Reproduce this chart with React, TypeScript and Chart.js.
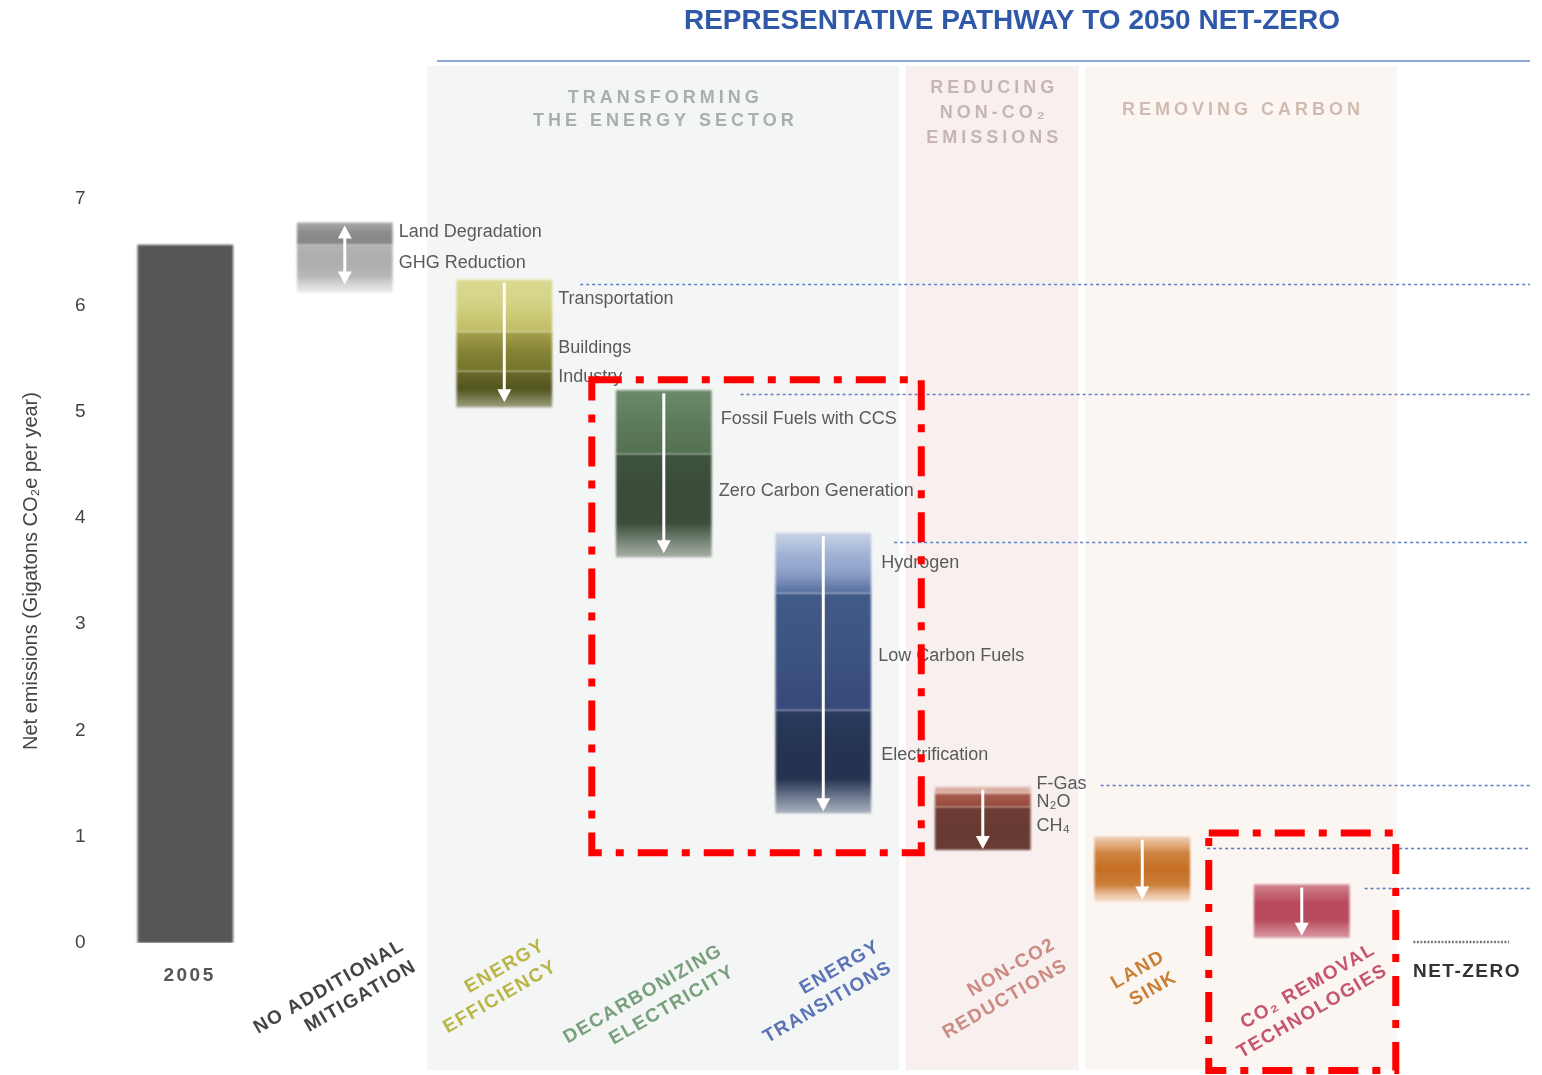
import React, { useEffect, useRef } from 'react';
import { Chart, registerables } from 'chart.js';

Chart.register(...registerables);

const FONT = '"Liberation Sans", Arial, Helvetica, sans-serif';

// ---------- DATA ----------
const categories = [
  '2005',
  'No Additional Mitigation',
  'Energy Efficiency',
  'Decarbonizing Electricity',
  'Energy Transitions',
  'Non-CO2 Reductions',
  'Land Sink',
  'CO2 Removal Technologies',
  'Net-Zero',
];
const categoryLabelLines = [
  ['2005'],
  ['NO ADDITIONAL', 'MITIGATION'],
  ['ENERGY', 'EFFICIENCY'],
  ['DECARBONIZING', 'ELECTRICITY'],
  ['ENERGY', 'TRANSITIONS'],
  ['NON-CO2', 'REDUCTIONS'],
  ['LAND', 'SINK'],
  ['CO\u2082 REMOVAL', 'TECHNOLOGIES'],
  ['NET-ZERO'],
];
const yMin = 0;
const yMax = 7;
const yStep = 1;

// floating bar ranges [low, high] in Gt CO2e / year
const emissions2005 = [0, 6.57];
const landDegradation = [6.57, 6.78];
const ghgReduction = [6.12, 6.57];
const transportation = [5.75, 6.24];
const buildings = [5.38, 5.75];
const industry = [5.04, 5.38];
const fossilFuelsCCS = [4.6, 5.2];
const zeroCarbonGeneration = [3.63, 4.6];
const hydrogen = [3.29, 3.86];
const lowCarbonFuels = [2.19, 3.29];
const electrification = [1.22, 2.19];
const fGas = [1.41, 1.47];
const n2o = [1.28, 1.41];
const ch4 = [0.875, 1.28];
const landSink = [0.39, 1.0];
const co2Removal = [0.05, 0.55];

// dotted reference levels (value, category after whose bar the line starts)
const levelValues = [6.2, 5.165, 3.77, 1.486, 0.894, 0.517];
const levelStartCategory = [2, 3, 4, 5, 6, 7];
const netZeroValue = 0;

// ---------- STYLE TABLES ----------
type Seg = {
  cat: number;
  range: number[];
  colors: string[];
  label?: string;
  labelDy?: number;
  labelDx?: number;
};

const segments: Seg[] = [
  { cat: 0, range: emissions2005, colors: ['#565656', '#565656'] },
  { cat: 1, range: landDegradation, colors: ['rgba(140,140,140,0.75)', '#8a8a8a', '#888888'], label: 'Land Degradation', labelDy: -2 },
  { cat: 1, range: ghgReduction, colors: ['#b3b3b3', '#adadad', '#b8b8b8', 'rgba(215,215,215,0.5)'], label: 'GHG Reduction', labelDy: -6 },
  { cat: 2, range: transportation, colors: ['#dad992', '#d3d282', '#bdbb63'], label: 'Transportation', labelDy: -7 },
  { cat: 2, range: buildings, colors: ['#a3a14c', '#858435', '#737329'], label: 'Buildings', labelDy: -3 },
  { cat: 2, range: industry, colors: ['#686a2b', '#535520', 'rgba(85,87,33,0.55)'], label: 'Industry', labelDy: -12 },
  { cat: 3, range: fossilFuelsCCS, colors: ['#6b8a69', '#5d7c5c', '#53704f'], label: 'Fossil Fuels with CCS', labelDy: -3, labelDx: 3 },
  { cat: 3, range: zeroCarbonGeneration, colors: ['#3f533e', '#3a4c39', '#3b4d3a', 'rgba(70,90,69,0.45)'], label: 'Zero Carbon Generation', labelDy: -15, labelDx: 1 },
  { cat: 4, range: hydrogen, colors: ['rgba(170,186,216,0.6)', '#a3b5d6', '#8c9fc7', '#566d9c'], label: 'Hydrogen', labelDy: 0, labelDx: 4 },
  { cat: 4, range: lowCarbonFuels, colors: ['#425a88', '#3d5481', '#37497a'], label: 'Low Carbon Fuels', labelDy: 4, labelDx: 1 },
  { cat: 4, range: electrification, colors: ['#2a3b5e', '#253452', '#243350', 'rgba(60,75,110,0.4)'], label: 'Electrification', labelDy: -7, labelDx: 4 },
  { cat: 5, range: fGas, colors: ['#e2bcb2', '#d3a497'], label: 'F-Gas', labelDy: -6 },
  { cat: 5, range: n2o, colors: ['#a85d4f', '#954a3e'], label: 'N\u2082O', labelDy: 2 },
  { cat: 5, range: ch4, colors: ['#6e3e35', '#673a31', '#6a3d34'], label: 'CH\u2084', labelDy: -2 },
  { cat: 6, range: landSink, colors: ['rgba(225,170,120,0.55)', '#cf8340', '#c56f24', '#cc7f3a', 'rgba(236,196,160,0.45)'] },
  { cat: 7, range: co2Removal, colors: ['rgba(196,100,115,0.8)', '#b94a5e', '#b84a5d', 'rgba(200,110,125,0.7)'] },
];

const arrowInsets = [0, 8, 5, 4, 2, 1, 2, 2];
const levelGap = [28, 29, 23, 70, 17, 15];

const sections = [
  { lines: ['TRANSFORMING', 'THE ENERGY SECTOR'], from: 2, dl: -77, to: 4, dr: 76, y0: 98, lh: 23, bg: '#f4f6f5', color: '#a7b0ab' },
  { lines: ['REDUCING', 'NON-CO\u2082', 'EMISSIONS'], from: 5, dl: -77, to: 5, dr: 96, y0: 88, lh: 25, bg: '#f7f0ef', color: '#c6b5b3' },
  { lines: ['REMOVING CARBON'], from: 6, dl: -57, to: 7, dr: 95, y0: 110, lh: 0, bg: '#fcf6f2', color: '#d0bbb0' },
];

// anchor: rotated labels -> right end of first line; flat labels -> centre
const catLabelStyle = [
  { dx: 3, dy: 33, rot: 0, color: '#555555', size: 19, ls: 2.5 },
  { dx: 57, dy: 2, rot: -30, color: '#444444', size: 19, ls: 1.5 },
  { dx: 38, dy: 2, rot: -30, color: '#b9b647', size: 19, ls: 1.5 },
  { dx: 56, dy: 7, rot: -30, color: '#78a07c', size: 19, ls: 1.5 },
  { dx: 54, dy: 3, rot: -30, color: '#5a74b6', size: 19, ls: 1.5 },
  { dx: 70, dy: 1, rot: -30, color: '#cc8b82', size: 19, ls: 1.5 },
  { dx: 20, dy: 13, rot: -30, color: '#c97f35', size: 19, ls: 1.5 },
  { dx: 71, dy: 6, rot: -30, color: '#c5566b', size: 19, ls: 1.5 },
  { dx: 5, dy: 29, rot: 0, color: '#333333', size: 19, ls: 1.5 },
];

const redBoxes = [
  { from: 3, dl: -72, to: 4, dr: 98, top: 5.3, bottom: 0.85 },
  { from: 7, dl: -93, to: 7, dr: 94, top: 1.035, bottom: -1.2 },
];

function gradientColor(seg: Seg) {
  return (c: any) => {
    const chart = c.chart;
    const y = chart.scales && chart.scales.y;
    if (!y || !chart.chartArea) return seg.colors[1];
    const top = y.getPixelForValue(seg.range[1]);
    const bot = y.getPixelForValue(seg.range[0]);
    if (!isFinite(top) || !isFinite(bot) || bot - top < 1) return seg.colors[1];
    const g = chart.ctx.createLinearGradient(0, top, 0, bot);
    const n = seg.colors.length;
    seg.colors.forEach((col, i) => g.addColorStop(i / (n - 1), col));
    return g;
  };
}

function drawArrow(ctx: CanvasRenderingContext2D, x: number, y1: number, y2: number, double: boolean) {
  ctx.save();
  ctx.strokeStyle = '#ffffff';
  ctx.fillStyle = '#ffffff';
  ctx.lineWidth = 3;
  ctx.beginPath();
  ctx.moveTo(x, y1 + (double ? 10 : 0));
  ctx.lineTo(x, y2 - 10);
  ctx.stroke();
  ctx.beginPath();
  ctx.moveTo(x - 7, y2 - 13);
  ctx.lineTo(x + 7, y2 - 13);
  ctx.lineTo(x, y2);
  ctx.closePath();
  ctx.fill();
  if (double) {
    ctx.beginPath();
    ctx.moveTo(x - 7, y1 + 13);
    ctx.lineTo(x + 7, y1 + 13);
    ctx.lineTo(x, y1);
    ctx.closePath();
    ctx.fill();
  }
  ctx.restore();
}

const decorPlugin = {
  id: 'decor',
  beforeDraw(chart: any) {
    const { ctx } = chart;
    const x = chart.scales.x;
    const cx = (i: number) => x.getPixelForValue(i);
    ctx.save();
    // title
    ctx.fillStyle = '#2f58a8';
    ctx.font = `bold 28px ${FONT}`;
    ctx.textAlign = 'center';
    ctx.textBaseline = 'middle';
    ctx.fillText('REPRESENTATIVE PATHWAY TO 2050 NET-ZERO', 1012, 21);
    ctx.strokeStyle = '#8aa6db';
    ctx.lineWidth = 2;
    ctx.beginPath();
    ctx.moveTo(437, 61);
    ctx.lineTo(1530, 61);
    ctx.stroke();
    // section backgrounds + headers
    sections.forEach((s) => {
      const l = cx(s.from) + s.dl;
      const r = cx(s.to) + s.dr;
      ctx.fillStyle = s.bg;
      ctx.fillRect(l, 66, r - l, 1004);
      ctx.fillStyle = s.color;
      ctx.font = `bold 18px ${FONT}`;
      (ctx as any).letterSpacing = '4px';
      s.lines.forEach((t, k) => ctx.fillText(t, (l + r) / 2 + 2, s.y0 + k * s.lh));
      (ctx as any).letterSpacing = '0px';
    });
    ctx.restore();
  },
  beforeDatasetsDraw(chart: any) {
    chart.ctx.save();
    chart.ctx.filter = 'blur(0.9px)';
  },
  afterDatasetsDraw(chart: any) {
    const { ctx } = chart;
    ctx.restore();
    const x = chart.scales.x;
    const y = chart.scales.y;
    const cx = (i: number) => x.getPixelForValue(i);
    const half = (x.width / categories.length) * 0.6 / 2;
    ctx.save();

    // arrows
    for (let cat = 1; cat < categories.length; cat++) {
      const segs = segments.filter((s) => s.cat === cat);
      if (!segs.length) continue;
      const hi = Math.max(...segs.map((s) => s.range[1]));
      const lo = Math.min(...segs.map((s) => s.range[0]));
      const yt = y.getPixelForValue(hi) + 3;
      const yb = y.getPixelForValue(lo) - arrowInsets[cat];
      drawArrow(ctx, cx(cat), yt, yb, cat === 1);
    }

    // annotation labels
    ctx.fillStyle = '#5a5a5a';
    ctx.font = `18px ${FONT}`;
    ctx.textAlign = 'left';
    ctx.textBaseline = 'middle';
    segments.forEach((s) => {
      if (!s.label) return;
      const mid = (s.range[0] + s.range[1]) / 2;
      ctx.fillText(s.label, cx(s.cat) + half + 6 + (s.labelDx || 0), y.getPixelForValue(mid) + (s.labelDy || 0));
    });

    // dotted level lines
    ctx.strokeStyle = '#5b7fc6';
    ctx.lineWidth = 1.6;
    ctx.setLineDash([3, 3]);
    levelValues.forEach((v, i) => {
      const py = Math.round(y.getPixelForValue(v)) + 0.5;
      ctx.beginPath();
      ctx.moveTo(cx(levelStartCategory[i]) + half + levelGap[i], py);
      ctx.lineTo(1530, py);
      ctx.stroke();
    });
    // net-zero mark
    ctx.strokeStyle = '#777777';
    ctx.lineWidth = 2.5;
    ctx.setLineDash([2, 1.5]);
    const nz = y.getPixelForValue(netZeroValue) - 1;
    ctx.beginPath();
    ctx.moveTo(cx(8) - half, nz);
    ctx.lineTo(cx(8) + half, nz);
    ctx.stroke();
    ctx.setLineDash([]);

    // category labels
    categoryLabelLines.forEach((lines, i) => {
      const st = catLabelStyle[i];
      ctx.save();
      ctx.translate(cx(i) + st.dx, y.bottom + st.dy);
      ctx.rotate((st.rot * Math.PI) / 180);
      ctx.fillStyle = st.color;
      ctx.font = `bold ${st.size}px ${FONT}`;
      (ctx as any).letterSpacing = `${st.ls}px`;
      ctx.textBaseline = 'middle';
      if (st.rot === 0) {
        ctx.textAlign = 'center';
        lines.forEach((t, k) => ctx.fillText(t, st.ls / 2, k * 24));
      } else {
        ctx.textAlign = 'right';
        lines.forEach((t, k) => ctx.fillText(t, st.ls, k * 24));
      }
      (ctx as any).letterSpacing = '0px';
      ctx.restore();
    });

    // red dash-dot highlight boxes
    ctx.strokeStyle = '#ff0000';
    ctx.lineWidth = 7;
    ctx.setLineDash([30, 14, 8, 14]);
    redBoxes.forEach((b) => {
      const l = cx(b.from) + b.dl;
      const r = cx(b.to) + b.dr;
      const t = y.getPixelForValue(b.top);
      const bt = y.getPixelForValue(b.bottom);
      ctx.strokeRect(l, t, r - l, bt - t);
    });
    ctx.restore();
  },
};

export default function App() {
  const ref = useRef<HTMLCanvasElement | null>(null);
  useEffect(() => {
    if (!ref.current) return;
    const datasets = segments.map((s) => {
      const data: any[] = categories.map(() => null);
      data[s.cat] = s.range;
      return {
        data,
        backgroundColor: gradientColor(s),
        borderWidth: 0,
        grouped: false,
        barPercentage: 0.6,
        categoryPercentage: 1,
      };
    });
    const chart = new Chart(ref.current, {
      type: 'bar',
      data: { labels: categories, datasets: datasets as any },
      options: {
        responsive: false,
        animation: false,
        devicePixelRatio: 1,
        layout: { padding: { top: 199, bottom: 132, left: 15, right: 1 } },
        plugins: { legend: { display: false }, tooltip: { enabled: false }, title: { display: false } },
        scales: {
          x: { display: false, offset: true },
          y: {
            min: yMin,
            max: yMax,
            grid: { display: false, drawTicks: false },
            border: { display: false },
            ticks: { stepSize: yStep, color: '#444444', font: { size: 19, family: FONT }, padding: 20 },
            title: {
              display: true,
              text: 'Net emissions (Gigatons CO\u2082e per year)',
              color: '#444444',
              font: { size: 20, family: FONT },
              padding: { top: 4, bottom: 12 },
            },
          },
        },
      },
      plugins: [decorPlugin],
    });
    return () => chart.destroy();
  }, []);
  return (
    <div style={{ position: 'absolute', left: 0, top: 0, width: 1542, height: 1075, background: '#ffffff' }}>
      <canvas ref={ref} width={1542} height={1075} style={{ width: 1542, height: 1075, display: 'block' }} />
    </div>
  );
}
